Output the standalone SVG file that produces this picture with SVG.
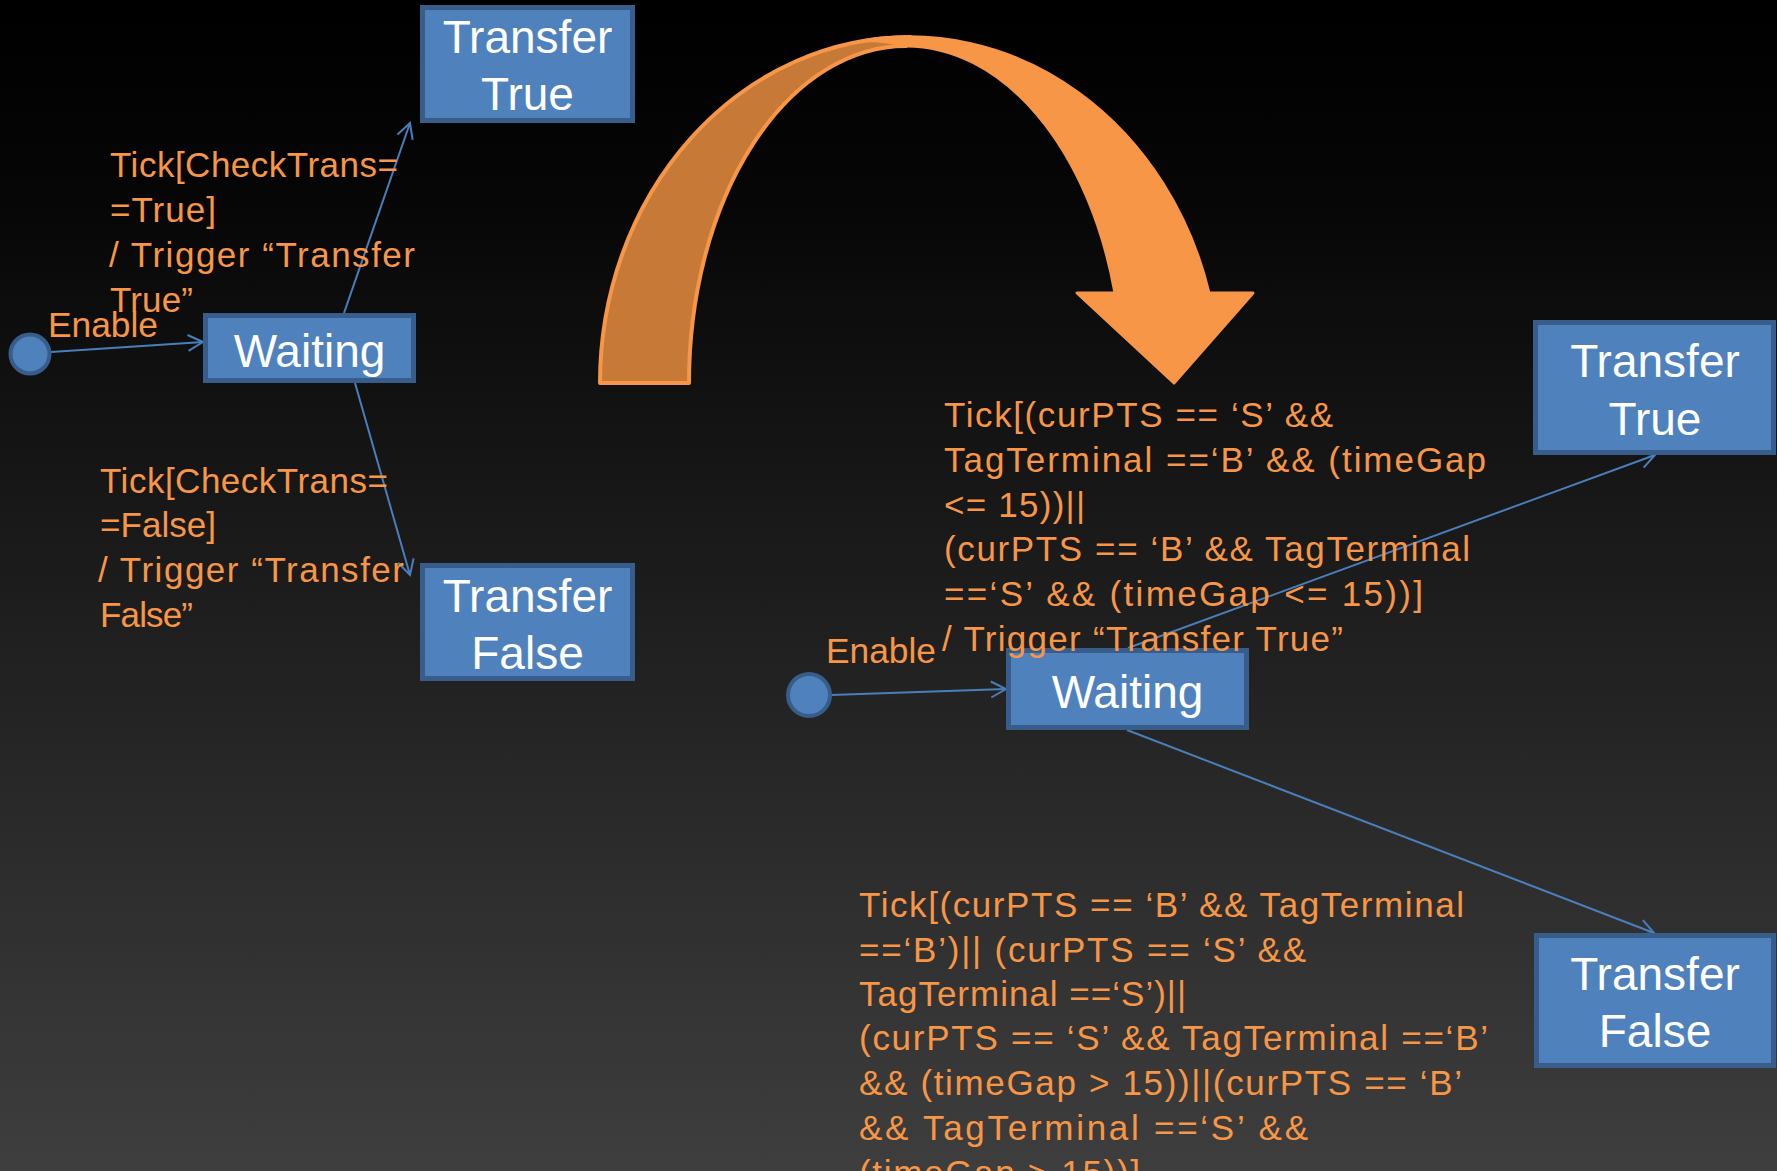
<svg xmlns="http://www.w3.org/2000/svg" width="1777" height="1171" viewBox="0 0 1777 1171">
  <defs>
    <linearGradient id="bg" x1="0" y1="0" x2="0" y2="1">
      <stop offset="0" stop-color="#000000"/>
      <stop offset="0.15" stop-color="#050505"/>
      <stop offset="1" stop-color="#3e3e3e"/>
    </linearGradient>
    <marker id="open" markerUnits="userSpaceOnUse" markerWidth="22" markerHeight="22" refX="17" refY="10" orient="auto">
      <path d="M2,2 L17,10 L2,18" fill="none" stroke="#4a7ebb" stroke-width="2"/>
    </marker>
    <style>
      .state { fill: #4f81bd; stroke: #385d8a; stroke-width: 5; }
      .init { fill: #4f81bd; stroke: #385d8a; stroke-width: 4; }
      .name { font-family: "Liberation Sans", Arial, sans-serif; font-size: 46px; fill: #ffffff; text-anchor: middle; }
      .lbl { font-family: "Liberation Sans", Arial, sans-serif; font-size: 35px; fill: #f79646; }
      .edge { fill: none; stroke: #4a7ebb; stroke-width: 2; marker-end: url(#open); }
    </style>
  </defs>

  <rect x="0" y="0" width="1777" height="1171" fill="url(#bg)"/>

  <!-- big curved orange arrow between the two machines -->
  <g id="flow-arrow">
    <path d="M600,383 A310,346 0 0 1 910,37 L906,46 A217,337 0 0 0 689,383 Z" fill="#c77a37" stroke="#f79646" stroke-width="4" stroke-linejoin="round"/>
    <path d="M862,41 A310,346 0 0 1 1209,293 L1253,293 L1174,383 L1077,293 L1115,293 A217,337 0 0 0 906,46 Q885,40 862,41 Z" fill="#f79646" stroke="#f79646" stroke-width="3" stroke-linejoin="round"/>
  </g>

  <!-- transitions -->
  <g id="connectors">
    <line class="edge" x1="51" y1="352" x2="203" y2="342"/>
    <line class="edge" x1="344" y1="313" x2="410" y2="123"/>
    <line class="edge" x1="355" y1="383" x2="410" y2="575"/>
    <line class="edge" x1="831" y1="695" x2="1006" y2="689"/>
    <line class="edge" x1="1128" y1="648" x2="1655" y2="455"/>
    <line class="edge" x1="1127" y1="730" x2="1654" y2="933"/>
  </g>

  <!-- simple machine -->
  <g id="init-a"><circle class="init" cx="30" cy="354" r="19.5"/></g>
  <g id="waiting-a">
    <rect class="state" x="205.5" y="315.5" width="208" height="65"/>
    <text class="name" x="309.5" y="367">Waiting</text>
  </g>
  <g id="true-a">
    <rect class="state" x="422.5" y="7.5" width="210" height="113"/>
    <text class="name" x="527.5" y="53">Transfer</text>
    <text class="name" x="527.5" y="110">True</text>
  </g>
  <g id="false-a">
    <rect class="state" x="422.5" y="565.5" width="210" height="113"/>
    <text class="name" x="527.5" y="612">Transfer</text>
    <text class="name" x="527.5" y="669">False</text>
  </g>

  <g id="labels-a">
    <text class="lbl" x="48" y="337" textLength="110" lengthAdjust="spacingAndGlyphs">Enable</text>
    <text class="lbl" x="110" y="177" textLength="288">Tick[CheckTrans=</text>
    <text class="lbl" x="110" y="222" textLength="106">=True]</text>
    <text class="lbl" x="109" y="267" textLength="306">/ Trigger “Transfer</text>
    <text class="lbl" x="110" y="312" textLength="83">True”</text>
    <text class="lbl" x="100" y="493" textLength="288">Tick[CheckTrans=</text>
    <text class="lbl" x="100" y="537" textLength="116">=False]</text>
    <text class="lbl" x="98" y="582" textLength="306">/ Trigger “Transfer</text>
    <text class="lbl" x="100" y="627" textLength="93">False”</text>
  </g>

  <!-- detailed machine -->
  <g id="init-b"><circle class="init" cx="809" cy="695" r="21"/></g>
  <g id="waiting-b">
    <rect class="state" x="1008.5" y="650.5" width="238" height="77"/>
    <text class="name" x="1127.5" y="708">Waiting</text>
  </g>
  <g id="true-b">
    <rect class="state" x="1535.5" y="322.5" width="238" height="130"/>
    <text class="name" x="1655" y="377">Transfer</text>
    <text class="name" x="1655" y="435">True</text>
  </g>
  <g id="false-b">
    <rect class="state" x="1536.5" y="935.5" width="237" height="130"/>
    <text class="name" x="1655" y="990">Transfer</text>
    <text class="name" x="1655" y="1047">False</text>
  </g>

  <g id="labels-b">
    <text class="lbl" x="826" y="663" textLength="110" lengthAdjust="spacingAndGlyphs">Enable</text>
    <text class="lbl" x="944" y="427" textLength="389">Tick[(curPTS == ‘S’ &amp;&amp;</text>
    <text class="lbl" x="944" y="472" textLength="542">TagTerminal ==‘B’ &amp;&amp; (timeGap</text>
    <text class="lbl" x="944" y="517" textLength="141">&lt;= 15))||</text>
    <text class="lbl" x="944" y="561" textLength="526">(curPTS == ‘B’ &amp;&amp; TagTerminal</text>
    <text class="lbl" x="944" y="606" textLength="479">==‘S’ &amp;&amp; (timeGap &lt;= 15))]</text>
    <text class="lbl" x="942" y="651" textLength="401">/ Trigger “Transfer True”</text>

    <text class="lbl" x="859" y="917" textLength="605">Tick[(curPTS == ‘B’ &amp;&amp; TagTerminal</text>
    <text class="lbl" x="859" y="962" textLength="447">==‘B’)|| (curPTS == ‘S’ &amp;&amp;</text>
    <text class="lbl" x="859" y="1006" textLength="327">TagTerminal ==‘S’)||</text>
    <text class="lbl" x="859" y="1050" textLength="629">(curPTS == ‘S’ &amp;&amp; TagTerminal ==‘B’</text>
    <text class="lbl" x="859" y="1095" textLength="603">&amp;&amp; (timeGap &gt; 15))||(curPTS == ‘B’</text>
    <text class="lbl" x="859" y="1140" textLength="449">&amp;&amp; TagTerminal ==‘S’ &amp;&amp;</text>
    <text class="lbl" x="859" y="1185" textLength="281">(timeGap &gt; 15))]</text>
  </g>
</svg>
